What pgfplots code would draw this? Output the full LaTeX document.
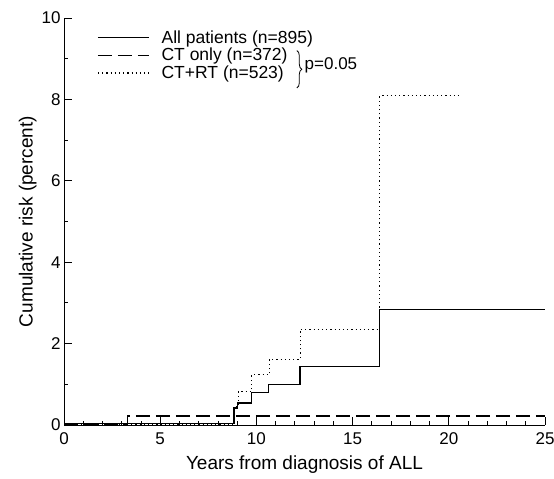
\documentclass[border=0pt]{standalone}
\usepackage{fontspec}
\setmainfont{Liberation Sans}
\usepackage{pgfplots}
\pgfplotsset{compat=1.18}
\usetikzlibrary{decorations.pathreplacing}

\begin{document}
\begin{tikzpicture}
\begin{axis}[
  scale only axis, width=481pt, height=407pt,
  xmin=0, xmax=25, ymin=0, ymax=10,
  axis lines=left, axis line style={-, line width=1pt},
  xtick={0,5,...,25}, ytick={0,2,...,10},
  minor xtick={1,2,...,24}, minor ytick={1,3,...,9},
  xtick align=inside, ytick align=inside,
  major tick length=8pt, minor tick length=4pt,
  tick style={black, line width=0.8pt},
  ticklabel style={font=\fontsize{17}{20}\selectfont},
  xticklabel style={yshift=-4pt},
  /pgf/number format/assume math mode=true,
  xlabel={Years from diagnosis of ALL},
  ylabel={Cumulative risk (percent)},
  label style={font=\fontsize{19}{22}\selectfont},
  xlabel style={yshift=-4pt},
  ylabel style={yshift=-2pt},
  legend style={draw=none, fill=none, at={(axis cs:1.72,9.72)}, anchor=north west,
    font=\fontsize{17.5}{20}\selectfont, row sep=1.5pt, inner sep=0pt,
    nodes={inner sep=1pt}},
  legend cell align=left,
  legend image code/.code={\draw[#1] (0pt,0pt) -- (51pt,0pt); \path (62pt,0pt);},
]
\addplot[black, line width=1.3pt, const plot] coordinates {
  (0,0.04) (8.84,0.42) (9.0,0.54) (9.75,0.79) (10.62,1.0) (12.27,1.43) (16.4,2.84) (25,2.84)};
\addlegendentry{All patients (n=895)}
\addplot[black, line width=1.1pt, dash pattern=on 14pt off 6pt, const plot] coordinates {
  (0,0.02) (3.3,0.22) (25,0.22)};
\addlegendentry{CT only (n=372)}
\addplot[black, line width=1.1pt, dash pattern=on 1.2pt off 3pt, const plot] coordinates {
  (0,0.02) (8.84,0.45) (9.06,0.82) (9.75,1.23) (10.67,1.61) (12.27,2.35) (16.42,8.09) (20.58,8.09)};
\addlegendentry{CT+RT (n=523)}
\draw[decorate, decoration={brace, amplitude=5pt}, line width=0.8pt]
  (axis cs:12.1,9.2) -- (axis cs:12.1,8.28);
\node[anchor=west, font=\fontsize{17}{20}\selectfont, inner sep=0pt] at (axis cs:12.5,8.83) {p=0.05};
\end{axis}
\pgfresetboundingbox
\path (-64pt,-54pt) rectangle (490pt,425pt);
\end{tikzpicture}
\end{document}
